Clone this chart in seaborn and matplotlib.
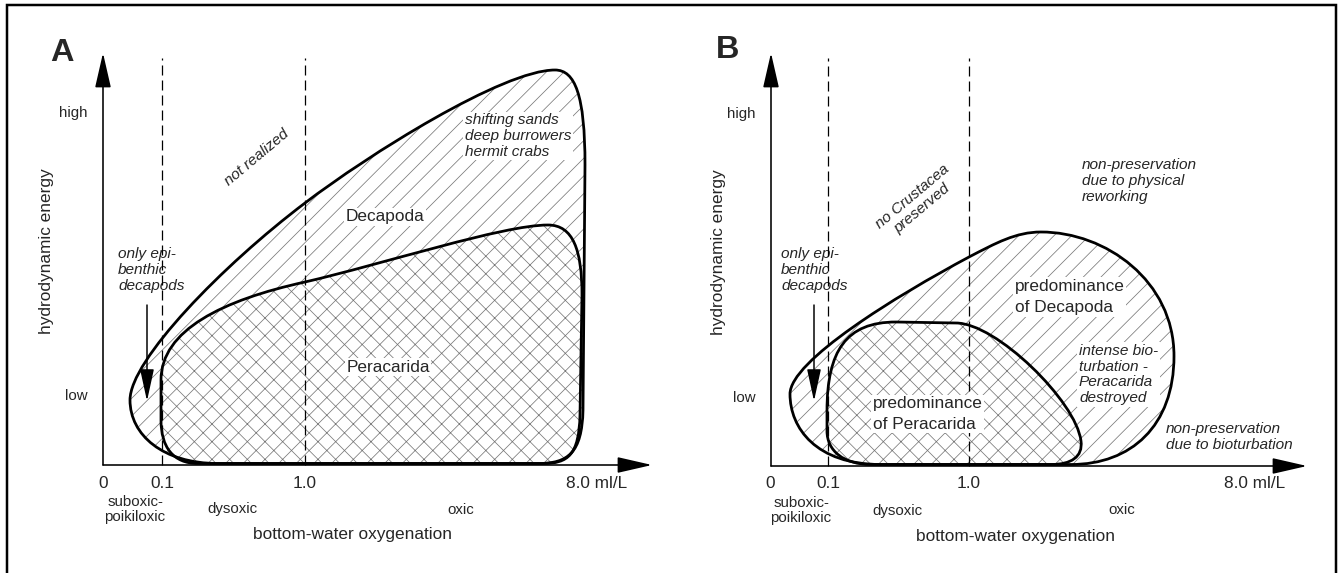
import matplotlib
matplotlib.use("Agg")
import pandas as pd
import matplotlib.pyplot as plt
import seaborn as sns
from matplotlib.path import Path
from matplotlib.patches import PathPatch, Rectangle

DPI = 106
PT = 72 / DPI  # points per pixel, so sizes below can be given in pixels

# Schematic coordinates (1 unit = 10 px, origin = corner of the axis arrows)
tick_labels = ["0", "0.1", "1.0", "8.0 ml/L"]
a_tick_x = [0.0, 5.9, 20.2, 49.4]
b_tick_x = [-0.1, 5.7, 19.8, 48.4]
a_dashed_x = [5.9, 20.2]
b_dashed_x = [5.7, 19.8]
zone_labels = ["suboxic-\npoikiloxic", "dysoxic", "oxic"]
a_zone_x = [3.2, 12.9, 35.8]
b_zone_x = [3.0, 12.6, 35.1]

# Blob outlines as Bezier control points (M move, C curve, L line, Z close)
decapoda_a_x = [2.7, 2.7, 12.0, 20.2, 26.5, 40.0, 45.2, 47.2, 48.2, 48.2, 48.0,
                47.9, 46.5, 43.5, 11.5, 6.0, 2.7, 2.7, 2.7]
decapoda_a_y = [6.5, 10.5, 20.0, 26.2, 31.0, 39.5, 39.5, 39.5, 37.0, 30.0, 5.5,
                1.2, 0.15, 0.15, 0.15, 0.15, 3.0, 6.5, 6.5]
peracarida_a_x = [5.8, 5.8, 12.0, 20.2, 28.0, 40.0, 44.5, 47.0, 47.9, 47.9, 47.7,
                  47.6, 46.5, 44.0, 9.5, 7.0, 5.8, 5.8, 5.8]
peracarida_a_y = [8.5, 13.5, 16.5, 18.3, 20.1, 24.0, 24.0, 24.0, 21.5, 17.0, 5.0,
                  1.0, 0.15, 0.15, 0.15, 0.15, 1.8, 4.5, 8.5]
blob_a_codes = "MCCCCCCCCCLCCCLCCCZ"

decapoda_b_x = [1.9, 1.9, 12.5, 19.8, 22.5, 24.5, 27.0, 33.5, 40.3, 40.3, 40.3,
                36.0, 30.0, 11.0, 4.5, 1.9, 1.9, 1.9]
decapoda_b_y = [7.2, 10.5, 17.0, 20.9, 22.3, 23.4, 23.4, 23.4, 18.5, 11.0, 4.0,
                0.15, 0.15, 0.15, 0.15, 3.8, 7.2, 7.2]
decapoda_b_codes = "MCCCCCCCCCCCCLCCCZ"
peracarida_b_x = [5.6, 5.6, 7.5, 12.5, 18.5, 22.5, 30.5, 31.0, 31.2, 30.0, 28.0,
                  10.0, 7.3, 5.6, 5.6, 5.6]
peracarida_b_y = [5.5, 11.5, 14.4, 14.4, 14.3, 14.3, 6.5, 2.5, 0.9, 0.15, 0.15,
                  0.15, 0.15, 1.5, 3.5, 5.5]
peracarida_b_codes = "MCCCLCCCCCCLCCCZ"

CODES = {"M": Path.MOVETO, "C": Path.CURVE4, "L": Path.LINETO, "Z": Path.CLOSEPOLY}

sns.set_theme(style="white")
plt.rcParams["font.family"] = ["Liberation Sans", "DejaVu Sans"]
plt.rcParams["hatch.linewidth"] = 0.75 * PT

MAIN = 17.3 * PT
SMALL = 15.0 * PT
NOTE = 15.4 * PT
LETTER = 32.5 * PT
knock = dict(facecolor="white", edgecolor="none", pad=1.0)


def add_blob(ax, xs, ys, codes, hatch):
    path = Path(list(zip(xs, ys)), [CODES[c] for c in codes])
    ax.add_patch(PathPatch(path, facecolor="white", edgecolor="#777777",
                           lw=0, hatch=hatch, zorder=2))
    return path


def outline(ax, path):
    ax.add_patch(PathPatch(path, fill=False, edgecolor="black", lw=2.75 * PT,
                           joinstyle="round", zorder=4))


def arrow(ax, start, end, head_length, head_width, lw):
    ax.annotate("", xy=end, xytext=start,
                arrowprops=dict(arrowstyle=f"-|>,head_length={head_length},head_width={head_width}",
                                mutation_scale=12.5 * PT, lw=lw * PT, color="black",
                                shrinkA=0, shrinkB=0), zorder=6)


def axes_frame(ax, tick_x, dashed_x, zone_x, x_tip, y_tip, dash_top, label_x, ylabel_x):
    df = pd.DataFrame({"x": [dashed_x[0], dashed_x[0], dashed_x[1], dashed_x[1]],
                       "y": [0, dash_top, 0, dash_top],
                       "line": ["a", "a", "b", "b"]})
    sns.lineplot(data=df, x="x", y="y", units="line", estimator=None, sort=False,
                 color="black", lw=1.25 * PT, linestyle=(0, (8, 4)), ax=ax, zorder=5)
    arrow(ax, (0, 0), (0, y_tip), 2.4, 0.55, 1.6)
    arrow(ax, (0, 0), (x_tip, 0), 2.4, 0.55, 1.6)
    for lab, x in zip(tick_labels, tick_x):
        ax.text(x, -1.8, lab, ha="center", va="center", fontsize=MAIN)
    for lab, x in zip(zone_labels, zone_x):
        ax.text(x, -4.45, lab, ha="center", va="center", fontsize=SMALL,
                linespacing=1.05, multialignment="center")
    ax.text(label_x, -7.0, "bottom-water oxygenation", ha="center", va="center", fontsize=MAIN)
    ax.text(ylabel_x, 21.4, "hydrodynamic energy", ha="center", va="center",
            rotation=90, fontsize=MAIN)
    ax.text(-3.0, 35.2, "high", ha="center", va="center", fontsize=SMALL)
    ax.text(-2.7, 6.85, "low", ha="center", va="center", fontsize=SMALL)


fig = plt.figure(figsize=(1342 / DPI, 573 / DPI), dpi=DPI)
fig.patch.set_facecolor("white")
ax_a = fig.add_axes([0, 0, 0.5, 1])
ax_b = fig.add_axes([0.5, 0, 0.5, 1])

# ---- panel A
ax = ax_a
outer = add_blob(ax, decapoda_a_x, decapoda_a_y, blob_a_codes, "//")
inner = add_blob(ax, peracarida_a_x, peracarida_a_y, blob_a_codes, "xx")
outline(ax, outer)
outline(ax, inner)
axes_frame(ax, a_tick_x, a_dashed_x, a_zone_x, 54.9, 41.2, 40.7, 24.9, -5.6)
arrow(ax, (4.4, 16.0), (4.4, 6.4), 2.2, 0.48, 1.5)
ax.text(1.5, 19.5, "only epi-\nbenthic\ndecapods", style="italic", ha="left",
        va="center", fontsize=NOTE, linespacing=1.15)
ax.text(15.4, 30.7, "not realized", style="italic", ha="center", va="center",
        rotation=40, rotation_mode="anchor", fontsize=NOTE)
ax.text(36.2, 32.9, "shifting sands\ndeep burrowers\nhermit crabs", style="italic",
        ha="left", va="center", fontsize=NOTE, linespacing=1.15, bbox=knock, zorder=7)
ax.text(28.2, 24.8, "Decapoda", ha="center", va="center", fontsize=MAIN, bbox=knock, zorder=7)
ax.text(28.5, 9.8, "Peracarida", ha="center", va="center", fontsize=MAIN, bbox=knock, zorder=7)
ax.text(-4.1, 41.2, "A", ha="center", va="center", fontsize=LETTER, fontweight="bold")
ax.set_xlim(-10.3, 56.8)
ax.set_ylim(-10.8, 46.5)
ax.set_axis_off()

# ---- panel B
ax = ax_b
outer = add_blob(ax, decapoda_b_x, decapoda_b_y, decapoda_b_codes, "//")
inner = add_blob(ax, peracarida_b_x, peracarida_b_y, peracarida_b_codes, "xx")
outline(ax, outer)
outline(ax, inner)
axes_frame(ax, b_tick_x, b_dashed_x, b_zone_x, 53.6, 41.3, 40.8, 24.4, -5.2)
arrow(ax, (4.3, 16.1), (4.3, 6.5), 2.2, 0.48, 1.5)
ax.text(1.0, 19.6, "only epi-\nbenthic\ndecapods", style="italic", ha="left",
        va="center", fontsize=NOTE, linespacing=1.15)
ax.text(14.6, 26.3, "no Crustacea\npreserved", style="italic", ha="center", va="center",
        rotation=40, rotation_mode="anchor", multialignment="center",
        fontsize=NOTE, linespacing=1.15)
ax.text(31.1, 28.5, "non-preservation\ndue to physical\nreworking", style="italic",
        ha="left", va="center", fontsize=NOTE, linespacing=1.2)
ax.text(24.4, 16.9, "predominance\nof Decapoda", ha="left", va="center",
        fontsize=MAIN, linespacing=1.5, bbox=knock, zorder=7)
ax.text(10.2, 5.2, "predominance\nof Peracarida", ha="left", va="center",
        fontsize=MAIN, linespacing=1.45, bbox=knock, zorder=7)
ax.text(30.8, 9.15, "intense bio-\nturbation -\nPeracarida\ndestroyed", style="italic",
        ha="left", va="center", fontsize=NOTE, linespacing=1.15, bbox=knock, zorder=7)
ax.text(39.5, 2.9, "non-preservation\ndue to bioturbation", style="italic",
        ha="left", va="center", fontsize=NOTE, linespacing=1.15)
ax.text(-4.3, 41.6, "B", ha="center", va="center", fontsize=LETTER, fontweight="bold")
ax.set_xlim(-10.0, 57.1)
ax.set_ylim(-10.7, 46.6)
ax.set_axis_off()

# outer frame around both panels
fig.add_artist(Rectangle((7 / 1342, -0.05), (1336 - 7) / 1342, 1.05 - 5 / 573,
                         transform=fig.transFigure, fill=False, lw=2.5 * PT,
                         edgecolor="black"))

fig.savefig("out.png", dpi=DPI, facecolor="white")
